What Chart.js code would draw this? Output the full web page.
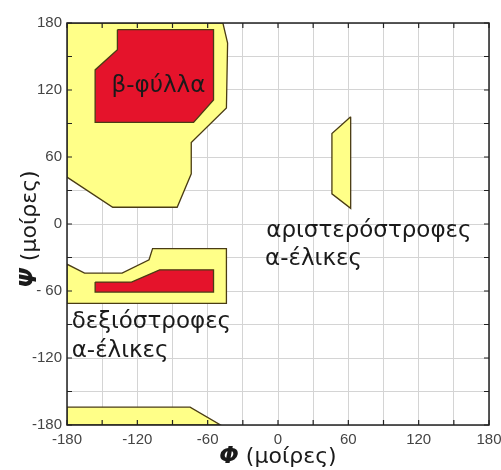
<!DOCTYPE html>
<html><head><meta charset="utf-8">
<script src="https://cdn.jsdelivr.net/npm/chart.js@4"></script>
<style>html,body{margin:0;padding:0;background:#fff;}#wrap{width:501px;height:470px;}</style>
</head><body><div id="wrap"><canvas id="c"></canvas></div>
<script>
// ---- data (φ, ψ in degrees) ----
const phiRange = [-180, 180];
const psiRange = [-180, 180];
const tickStep = 30;
const labelStep = 60;
const allowedBeta   = [[-180,180],[-47,180],[-43,162],[-44,104],[-74,73],[-74,45],[-86,15],[-141,15],[-180,42]];
const coreBeta      = [[-137,174],[-55,174],[-55,111],[-72,91],[-156,91],[-156,138],[-137,156]];
const allowedAlphaR = [[-180,-36],[-165,-44],[-133,-44],[-110,-32],[-107,-22],[-44,-22],[-44,-71],[-180,-71]];
const coreAlphaR    = [[-156,-52],[-125,-52],[-101,-41],[-55,-41],[-55,-61],[-156,-61]];
const allowedBottom = [[-180,-164],[-75,-164],[-49,-180],[-180,-180]];
const allowedAlphaL = [[62,96],[46,81],[46,27],[62,14]];
const regionLabels = [
  {text:'β-φύλλα', phi:-142, psi:124},
  {text:'δεξιόστροφες', phi:-176, psi:-88},
  {text:'α-έλικες', phi:-176, psi:-114},
  {text:'αριστερόστροφες', phi:-10, psi:-6},
  {text:'α-έλικες', phi:-11, psi:-31}
];
const xTitle = ['Φ', ' (μοίρες)'];
const yTitle = ['Ψ', ' (μοίρες)'];

const YELLOW = '#ffff88', RED = '#e5132b', EDGE = '#4a3c14';
function poly(pts, color, order){
  const d = pts.concat([pts[0]]).map(([x,y])=>({x,y}));
  return {data:d, showLine:true, fill:'shape', backgroundColor:color, borderColor:EDGE,
          borderWidth:1.3, pointRadius:0, tension:0, order:order};
}
const datasets = [
  poly(coreBeta, RED, 0), poly(coreAlphaR, RED, 0),
  poly(allowedBeta, YELLOW, 1), poly(allowedAlphaR, YELLOW, 1),
  poly(allowedBottom, YELLOW, 1), poly(allowedAlphaL, YELLOW, 1)
];

const LBL = '"DejaVu Sans", sans-serif';
const decor = {
  id:'decor',
  afterDatasetsDraw(chart){
    const {ctx, chartArea:a, scales:{x,y}} = chart;
    ctx.save();
    // inward ticks
    ctx.strokeStyle = '#222'; ctx.lineWidth = 1.2;
    ctx.beginPath();
    x.ticks.forEach(t=>{ const px = x.getPixelForValue(t.value);
      ctx.moveTo(px,a.bottom); ctx.lineTo(px,a.bottom-5);
      ctx.moveTo(px,a.top); ctx.lineTo(px,a.top+5); });
    y.ticks.forEach(t=>{ const py = y.getPixelForValue(t.value);
      ctx.moveTo(a.left,py); ctx.lineTo(a.left+5,py);
      ctx.moveTo(a.right,py); ctx.lineTo(a.right-5,py); });
    ctx.stroke();
    ctx.lineWidth = 1.5; ctx.strokeStyle = '#222';
    ctx.strokeRect(a.left, a.top, a.right-a.left, a.bottom-a.top);
    // region labels
    ctx.fillStyle = '#1a1a1a';
    ctx.textBaseline = 'middle'; ctx.textAlign = 'left';
    regionLabels.forEach((l,i)=>{
      ctx.font = '23px ' + LBL;
      ctx.fillText(l.text, x.getPixelForValue(l.phi), y.getPixelForValue(l.psi));
    });
    // axis titles
    const big = 'italic bold 23px ' + LBL, reg = '22px ' + LBL;
    const cx = (a.left+a.right)/2;
    ctx.textBaseline = 'alphabetic';
    ctx.font = big; const w1 = ctx.measureText(xTitle[0]).width;
    ctx.font = reg; const w2 = ctx.measureText(xTitle[1]).width;
    let sx = cx - (w1+w2)/2;
    ctx.font = big; ctx.fillText(xTitle[0], sx, 463);
    ctx.font = reg; ctx.fillText(xTitle[1], sx+w1, 463);
    // y title rotated
    ctx.save();
    ctx.translate(36, (a.top+a.bottom)/2+5);
    ctx.rotate(-Math.PI/2);
    ctx.font = big; const v1 = ctx.measureText(yTitle[0]).width;
    ctx.font = reg; const v2 = ctx.measureText(yTitle[1]).width;
    const sy = -(v1+v2)/2;
    ctx.font = big; ctx.fillText(yTitle[0], sy, 0);
    ctx.font = reg; ctx.fillText(yTitle[1], sy+v1, 0);
    ctx.restore();
    ctx.restore();
  }
};

const tickFont = {family:'"Liberation Sans", Arial, sans-serif', size:15};
new Chart(document.getElementById('c'), {
  type:'scatter',
  data:{datasets},
  options:{
    responsive:true, maintainAspectRatio:false, animation:false,
    layout:{padding:{top:23, right:0, left:0, bottom:0}},
    plugins:{legend:{display:false}, tooltip:{enabled:false}},
    scales:{
      x:{type:'linear', min:phiRange[0], max:phiRange[1],
         afterFit(s){ s.height = 45; s.paddingRight = 12; s.paddingLeft = 0; },
         grid:{color:'#d4d4d4', drawTicks:false, lineWidth:1},
         border:{display:false},
         ticks:{stepSize:tickStep, autoSkip:false, maxRotation:0, padding:6, color:'#444', font:tickFont,
                callback:v=> (v % labelStep === 0) ? String(v) : ''}},
      y:{type:'linear', min:psiRange[0], max:psiRange[1],
         afterFit(s){ s.width = 67; s.paddingTop = 0; s.paddingBottom = 0; },
         grid:{color:'#d4d4d4', drawTicks:false, lineWidth:1},
         border:{display:false},
         ticks:{stepSize:tickStep, autoSkip:false, padding:5, color:'#444', font:tickFont,
                callback:v=> (v % labelStep === 0) ? (v===-60 ? '- 60' : String(v)) : ''}}
    }
  },
  plugins:[decor]
});
</script></body></html>
